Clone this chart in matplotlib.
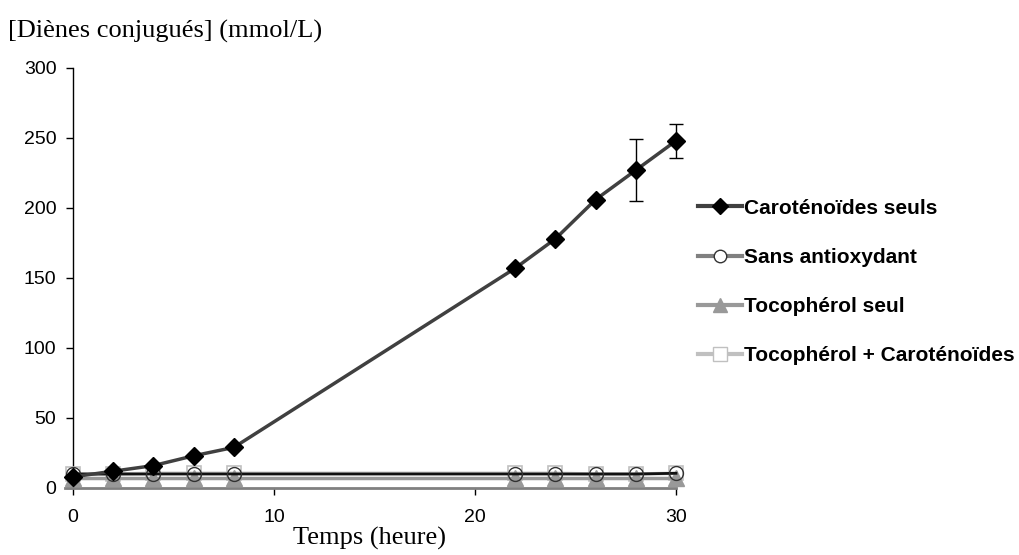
import matplotlib.pyplot as plt
from matplotlib.lines import Line2D

plt.rcParams['font.family'] = 'Liberation Sans'

# données
temps = [0, 2, 4, 6, 8, 22, 24, 26, 28, 30]
carotenoides = [8, 12, 16, 23, 29, 157, 178, 206, 227, 248]
carotenoides_err = [0, 0, 0, 0, 0, 0, 0, 0, 22, 12]
sans_antiox = [10, 10, 10, 10, 10, 10, 10, 10, 10, 10.5]
tocopherol = [7, 7, 7, 7, 7, 7, 7, 7, 7, 7]
toco_carot = [10, 10, 10.5, 10.5, 10.5, 10.5, 10.5, 10, 10, 10.5]

labels = ['Caroténoïdes seuls', 'Sans antioxydant', 'Tocophérol seul',
          'Tocophérol + Caroténoïdes']

fig = plt.figure(figsize=(10.2, 5.55), dpi=100)
ax = fig.add_axes([65 / 1020, 67 / 555, 611 / 1020, 420 / 555])

# séries (ordre de dessin comme Excel)
ax.plot(temps, toco_carot, color='#c0c0c0', lw=2.5, marker='s', ms=10,
        mfc='none', mec='#c0c0c0', mew=1.2, zorder=3, clip_on=False)
ax.plot(temps, tocopherol, color='#999999', lw=2.5, marker='^', ms=11,
        mfc='#999999', mec='#999999', zorder=4, clip_on=False)
ax.plot(temps, sans_antiox, color='#111111', lw=2, marker='o', ms=10,
        mfc='none', mec='#333333', mew=1, zorder=5, clip_on=False)
eb = ax.errorbar(temps, carotenoides, yerr=carotenoides_err, color='#404040', lw=2.5,
                 marker='D', ms=9.5, mfc='black', mec='black',
                 ecolor='black', elinewidth=1, capsize=5, capthick=1, zorder=6)
for art in eb.lines[0:1] + tuple(eb.lines[1]) + tuple(eb.lines[2]):
    art.set_clip_on(False)

ax.set_xlim(-0.4, 30)
ax.set_ylim(0, 300)
ax.set_xticks([0, 10, 20, 30])
ax.set_yticks(range(0, 301, 50))

ax.spines['top'].set_visible(False)
ax.spines['right'].set_visible(False)
ax.spines['left'].set_position(('data', 0))
ax.spines['left'].set_linewidth(1)
ax.spines['bottom'].set_color('#808080')
ax.spines['bottom'].set_linewidth(2)
ax.tick_params(axis='y', direction='out', length=5, width=1, labelsize=14, pad=7)
ax.tick_params(axis='x', direction='out', length=5, width=1, labelsize=14, pad=10)

fig.text(8 / 1020, 1 - 31 / 555, '[Diènes conjugués] (mmol/L)', family='Liberation Serif',
         fontsize=19, va='center', ha='left')
fig.text(370 / 1020, 1 - 538 / 555, 'Temps (heure)', family='Liberation Serif',
         fontsize=19, va='center', ha='center')

handles = [
    Line2D([], [], color='#404040', lw=3, marker='D', ms=8, mfc='black', mec='black'),
    Line2D([], [], color='#808080', lw=3, marker='o', ms=9, mfc='white', mec='#333333'),
    Line2D([], [], color='#999999', lw=3, marker='^', ms=10, mfc='#999999', mec='#999999'),
    Line2D([], [], color='#c0c0c0', lw=3, marker='s', ms=10, mfc='white', mec='#c0c0c0'),
]
fig.legend(handles, labels, loc='center left', bbox_to_anchor=(688 / 1020, 1 - 282 / 555),
           frameon=False, handlelength=2.1, handletextpad=0.1, labelspacing=1.45,
           borderpad=0, prop={'family': 'Liberation Sans', 'weight': 'bold', 'size': 15})

fig.savefig('out.png', dpi=100)
